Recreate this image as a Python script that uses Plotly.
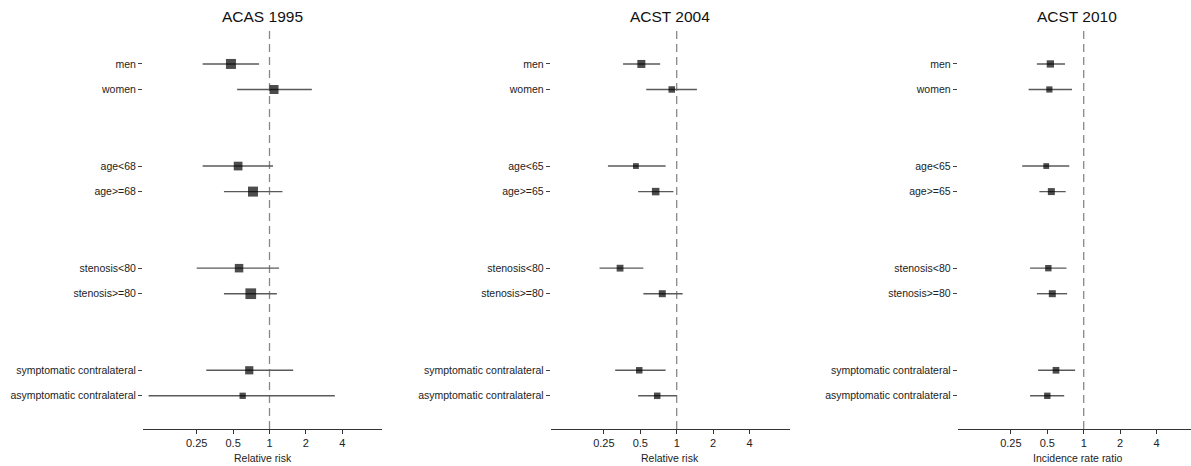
import math
import plotly.graph_objects as go

# ---- data -------------------------------------------------------------
studies = ["ACAS 1995", "ACST 2004", "ACST 2010"]
x_titles = ["Relative risk", "Relative risk", "Incidence rate ratio"]

labels_acas = ["men", "women", "age<68", "age>=68", "stenosis<80", "stenosis>=80",
               "symptomatic contralateral", "asymptomatic contralateral"]
labels_acst = ["men", "women", "age<65", "age>=65", "stenosis<80", "stenosis>=80",
               "symptomatic contralateral", "asymptomatic contralateral"]

acas95_est = [0.48, 1.09, 0.55, 0.73, 0.56, 0.70, 0.68, 0.60]
acas95_lo = [0.28, 0.54, 0.28, 0.42, 0.25, 0.42, 0.30, 0.10]
acas95_hi = [0.82, 2.24, 1.07, 1.28, 1.20, 1.15, 1.57, 3.47]

acst04_est = [0.51, 0.91, 0.46, 0.67, 0.34, 0.76, 0.49, 0.69]
acst04_lo = [0.36, 0.56, 0.27, 0.48, 0.23, 0.53, 0.31, 0.48]
acst04_hi = [0.73, 1.47, 0.81, 0.94, 0.53, 1.12, 0.81, 1.00]

acst10_est = [0.53, 0.52, 0.49, 0.54, 0.51, 0.55, 0.59, 0.50]
acst10_lo = [0.41, 0.35, 0.31, 0.43, 0.36, 0.41, 0.42, 0.36]
acst10_hi = [0.70, 0.80, 0.76, 0.71, 0.72, 0.73, 0.85, 0.69]

tick_vals = [0.25, 0.5, 1, 2, 4]
tick_text = ["0.25", "0.5", "1", "2", "4"]

# box sizes (px), scaled by study weight
box_acas95 = [10, 9, 8.7, 10, 8.5, 10.7, 8.2, 6.3]
box_acst04 = [8, 6.5, 5.8, 7.5, 6.8, 7, 6.5, 6.5]
box_acst10 = [7.3, 6.2, 5.8, 7, 6.4, 7, 6.7, 6.4]

panels = [
    (labels_acas, acas95_est, acas95_lo, acas95_hi, box_acas95),
    (labels_acst, acst04_est, acst04_lo, acst04_hi, box_acst04),
    (labels_acst, acst10_est, acst10_lo, acst10_hi, box_acst10),
]

# ---- layout geometry ---------------------------------------------------
W, H = 1191, 466
FONT = "Liberation Sans, Arial, sans-serif"
panel_left = [143.0, 550.7, 957.7]
panel_w = 239.0
px_per_doubling = 36.4
ref_px = [269.5, 676.7, 1083.7]          # pixel position of ratio = 1
plot_top, plot_bottom = 30.0, 429.0

def row_pos(i):
    # rows come in pairs separated by blank space
    return i + 2 * (i // 2)

fig = go.Figure()
layout = dict(
    width=W, height=H,
    margin=dict(l=0, r=0, t=0, b=0),
    paper_bgcolor="white", plot_bgcolor="white",
    showlegend=False,
    font=dict(family=FONT, color="#222"),
    shapes=[], annotations=[],
)

for k, (labels, est, lo, hi, box) in enumerate(panels):
    xa = "x" if k == 0 else f"x{k+1}"
    ya = "y" if k == 0 else f"y{k+1}"
    ypos = [row_pos(i) for i in range(len(labels))]

    # confidence intervals
    ci_x, ci_y = [], []
    for l, h, y in zip(lo, hi, ypos):
        ci_x += [l, h, None]
        ci_y += [y, y, None]
    fig.add_trace(go.Scatter(
        x=ci_x, y=ci_y, mode="lines", xaxis=xa, yaxis=ya,
        line=dict(color="#5a5a5a", width=1.4), hoverinfo="skip",
        cliponaxis=False,
    ))
    # point estimates
    fig.add_trace(go.Scatter(
        x=est, y=ypos, mode="markers", xaxis=xa, yaxis=ya,
        marker=dict(symbol="square", size=box, color="black", line=dict(width=0)),
        cliponaxis=False,
    ))

    left = panel_left[k]
    right_full = left + panel_w
    right = min(right_full, W)
    l2 = math.log10(2)
    rng = [l2 * (left - ref_px[k]) / px_per_doubling,
           l2 * (right - ref_px[k]) / px_per_doubling]

    layout["xaxis" + ("" if k == 0 else str(k + 1))] = dict(
        type="log", domain=[left / W, right / W], range=rng,
        anchor=ya, showline=True, linecolor="#333", linewidth=1,
        ticks="outside", ticklen=4, tickcolor="#333",
        tickvals=tick_vals, ticktext=tick_text,
        tickfont=dict(size=11, color="#222"),
        showgrid=False, zeroline=False, fixedrange=True,
    )
    units_top, units_bottom = -1.33, 14.3
    layout["yaxis" + ("" if k == 0 else str(k + 1))] = dict(
        domain=[1 - plot_bottom / H, 1 - plot_top / H],
        range=[units_bottom, units_top], anchor=xa,
        tickvals=ypos, ticktext=labels,
        ticks="outside", ticklen=4, tickcolor="#444",
        tickfont=dict(size=10.5, color="#222"),
        showline=False, showgrid=False, zeroline=False, fixedrange=True,
    )

    # reference line at ratio = 1
    layout["shapes"].append(dict(
        type="line", xref=xa, x0=1, x1=1,
        yref=f"{ya} domain", y0=0, y1=1,
        line=dict(color="#888", width=1.3, dash="8px,5px"),
        layer="below",
    ))

    centre = (left + right_full) / 2
    layout["annotations"].append(dict(
        text=studies[k], xref="paper", yref="paper",
        x=centre / W, y=1 - 17 / H, xanchor="center", yanchor="middle",
        showarrow=False, font=dict(size=15.5, color="#111"),
    ))
    layout["annotations"].append(dict(
        text=x_titles[k], xref="paper", yref="paper",
        x=centre / W, y=1 - 458 / H, xanchor="center", yanchor="middle",
        showarrow=False, font=dict(size=10.5, color="#222"),
    ))

fig.update_layout(**layout)
fig.write_html("out.html")
